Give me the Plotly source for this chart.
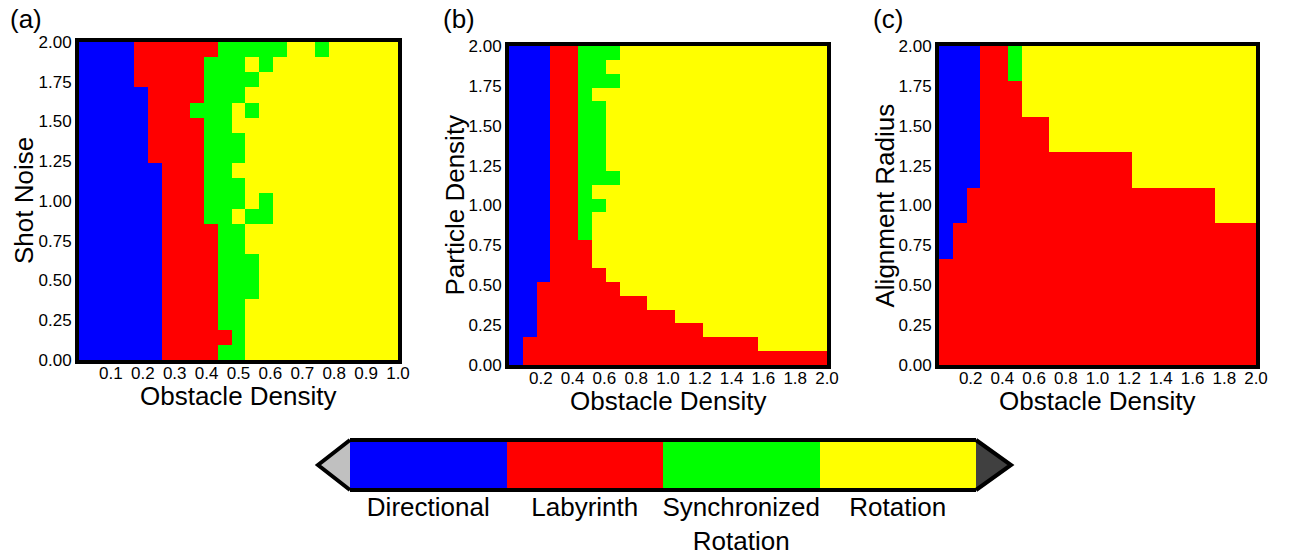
import numpy as np
import plotly.graph_objects as go

W, H = 1289, 556

# ---------------- data ----------------
# phase codes: 0 Directional, 1 Labyrinth, 2 Synchronized Rotation, 3 Rotation
PHASES = ["Directional", "Labyrinth", "Synchronized<br>Rotation", "Rotation"]
PHASE_COLORS = ["#0000ff", "#ff0000", "#00ff00", "#ffff00"]

# (a) Shot Noise vs Obstacle Density; rows listed top (2.0) to bottom (0.0)
SHOT_NOISE_ROWS = [
    "00001111112222233233333",
    "00001111122232333333333",
    "00001111122223333333333",
    "00000111122233333333333",
    "00000111222323333333333",
    "00000111122333333333333",
    "00000111122233333333333",
    "00000111122233333333333",
    "00000011122333333333333",
    "00000011122233333333333",
    "00000011122232333333333",
    "00000011122322333333333",
    "00000011112233333333333",
    "00000011112233333333333",
    "00000011112223333333333",
    "00000011112223333333333",
    "00000011112223333333333",
    "00000011112233333333333",
    "00000011112233333333333",
    "00000011111233333333333",
    "00000011112233333333333",
]

# (b) Particle Density vs Obstacle Density
PARTICLE_DENSITY_ROWS = [
    "00011222333333333333333",
    "00011223333333333333333",
    "00011222333333333333333",
    "00011233333333333333333",
    "00011223333333333333333",
    "00011223333333333333333",
    "00011223333333333333333",
    "00011223333333333333333",
    "00011223333333333333333",
    "00011222333333333333333",
    "00011233333333333333333",
    "00011223333333333333333",
    "00011233333333333333333",
    "00011233333333333333333",
    "00011133333333333333333",
    "00011133333333333333333",
    "00011113333333333333333",
    "00111111333333333333333",
    "00111111113333333333333",
    "00111111111133333333333",
    "00111111111111333333333",
    "01111111111111111133333",
    "01111111111111111111111",
]

# (c) Alignment Radius vs Obstacle Density
ALIGNMENT_RADIUS_ROWS = [
    "00011233333333333333333",
    "00011133333333333333333",
    "00011111333333333333333",
    "00011111111111333333333",
    "00111111111111111111333",
    "01111111111111111111111",
    "11111111111111111111111",
    "11111111111111111111111",
    "11111111111111111111111",
]

X_TICKS_A = [0.1, 0.2, 0.3, 0.4, 0.5, 0.6, 0.7, 0.8, 0.9, 1.0]
X_TICKS_BC = [0.2, 0.4, 0.6, 0.8, 1.0, 1.2, 1.4, 1.6, 1.8, 2.0]
Y_TICKS = [0.0, 0.25, 0.5, 0.75, 1.0, 1.25, 1.5, 1.75, 2.0]

# ---------------- helpers ----------------
FONT = "Liberation Sans, Arial, sans-serif"


def px_x(p):
    return p / W


def px_y(p):
    return 1 - p / H


def to_grid(rows):
    return np.array([[int(c) for c in r] for r in rows[::-1]])


cs = []
for i, c in enumerate(PHASE_COLORS):
    cs.append([i / 4, c])
    cs.append([(i + 1) / 4, c])

panels = [
    dict(rows=SHOT_NOISE_ROWS, xmax=1.0, xticks=X_TICKS_A, ylabel="Shot Noise",
         tag="(a)", box=(79, 398, 42, 360), tagx=8),
    dict(rows=PARTICLE_DENSITY_ROWS, xmax=2.0, xticks=X_TICKS_BC, ylabel="Particle Density",
         tag="(b)", box=(509, 827, 46, 365), tagx=441),
    dict(rows=ALIGNMENT_RADIUS_ROWS, xmax=2.0, xticks=X_TICKS_BC, ylabel="Alignment Radius",
         tag="(c)", box=(939, 1256, 46, 365), tagx=871),
]

fig = go.Figure()
layout = dict(
    width=W, height=H, margin=dict(l=0, r=0, t=0, b=0, autoexpand=False),
    paper_bgcolor="white", plot_bgcolor="white",
    font=dict(family=FONT, color="black"),
    showlegend=False,
)
annotations = []
shapes = []

axis_common = dict(showgrid=False, zeroline=False, showline=True, mirror=True,
                   linecolor="black", linewidth=4, ticks="", fixedrange=True,
                   automargin=False)

for i, p in enumerate(panels, start=1):
    z = to_grid(p["rows"])
    nr, nc = z.shape
    xs = np.linspace(0, p["xmax"], nc + 1)
    ys = np.linspace(0, 2.0, nr + 1)
    sfx = "" if i == 1 else str(i)
    fig.add_trace(go.Heatmap(
        z=z, x=xs, y=ys, colorscale=cs, zmin=-0.5, zmax=3.5, showscale=False,
        xaxis="x" + sfx, yaxis="y" + sfx, hoverinfo="skip",
    ))
    x0, x1, y0, y1 = p["box"]
    layout["xaxis" + sfx] = dict(
        axis_common, domain=[px_x(x0), px_x(x1)], range=[0, p["xmax"]],
        anchor="y" + sfx, tickvals=p["xticks"],
        ticktext=[f"{v:.1f}" for v in p["xticks"]],
        tickfont=dict(size=17, family=FONT, color="black"),
        ticklabelstandoff=-5,
    )
    layout["yaxis" + sfx] = dict(
        axis_common, domain=[px_y(y1), px_y(y0)], range=[0, 2.0],
        anchor="x" + sfx, tickvals=Y_TICKS,
        ticktext=[f"{v:.2f}" for v in Y_TICKS],
        tickfont=dict(size=17, family=FONT, color="black"),
    )
    cx = (x0 + x1) / 2
    cy = (y0 + y1) / 2
    annotations.append(dict(
        text="Obstacle Density", x=px_x(cx), y=px_y(y1 + 36), xref="paper", yref="paper",
        showarrow=False, font=dict(size=26, family=FONT, color="black"),
        xanchor="center", yanchor="middle"))
    annotations.append(dict(
        text=p["ylabel"], x=px_x(x0 - 55), y=px_y(cy), xref="paper", yref="paper",
        showarrow=False, textangle=-90, font=dict(size=26, family=FONT, color="black"),
        xanchor="center", yanchor="middle"))
    annotations.append(dict(
        text=p["tag"], x=px_x(p["tagx"]), y=px_y(19), xref="paper", yref="paper",
        showarrow=False, font=dict(size=26, family=FONT, color="black"),
        xanchor="left", yanchor="middle"))

# ---------------- categorical colour bar ----------------
CB = (350, 976, 442, 488)
fig.add_trace(go.Heatmap(
    z=[list(range(len(PHASES)))], x=list(range(len(PHASES))), y=[0],
    colorscale=cs, zmin=-0.5, zmax=3.5, showscale=False,
    xaxis="x4", yaxis="y4", hoverinfo="skip",
))
layout["xaxis4"] = dict(
    axis_common, domain=[px_x(CB[0]), px_x(CB[1])], range=[-0.5, len(PHASES) - 0.5],
    anchor="y4", tickvals=list(range(len(PHASES))), ticktext=PHASES,
    tickfont=dict(size=26, family=FONT, color="black"),
    ticklabelstandoff=-7,
)
layout["yaxis4"] = dict(
    axis_common, domain=[px_y(CB[3]), px_y(CB[2])], range=[-0.5, 0.5],
    anchor="x4", showticklabels=False, showline=False, mirror=False,
)


def tri(xb, xt, ytop, ybot, fill):
    ym = (ytop + ybot) / 2
    path = (f"M {px_x(xb)},{px_y(ytop)} L {px_x(xt)},{px_y(ym)} "
            f"L {px_x(xb)},{px_y(ybot)}")
    return dict(type="path", path=path, xref="paper", yref="paper",
                fillcolor=fill, line=dict(color="black", width=4), layer="above")


shapes.append(tri(CB[0], 318, CB[2] - 2, CB[3] + 2, "#c0c0c0"))
shapes.append(tri(CB[1], 1011, CB[2] - 2, CB[3] + 2, "#404040"))

layout["annotations"] = annotations
layout["shapes"] = shapes
fig.update_layout(**layout)
fig.write_html("out.html")
